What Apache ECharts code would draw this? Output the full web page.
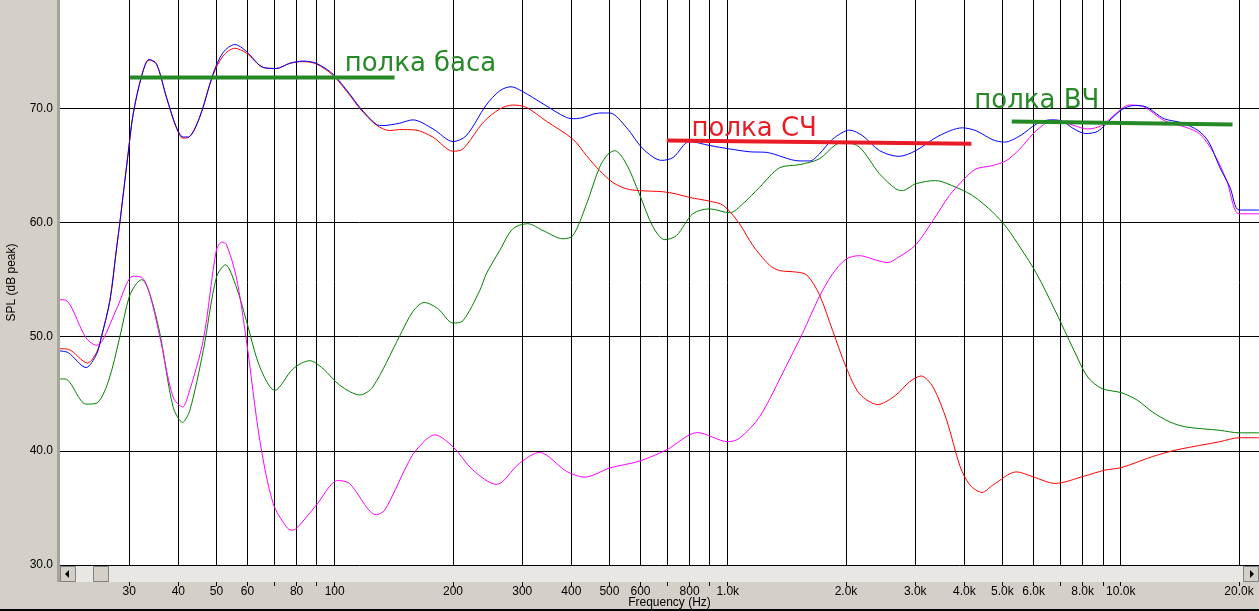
<!DOCTYPE html>
<html>
<head>
<meta charset="utf-8">
<script src="https://cdn.jsdelivr.net/npm/echarts@6/dist/echarts.min.js"></script>
<style>
  html, body { margin: 0; padding: 0; background: #d4d0c8; }
  #main { width: 1259px; height: 611px; }
</style>
</head>
<body>
<div id="main"></div>
<script>
// АЧХ: сумма и отдельные полосы, [Гц, дБ]
var sumCurve = [
  [20, 48.75], [21, 48.6], [23.3, 47.3], [24.8, 48.5], [25.5, 50.0], [26.8, 53.2], [27.8, 57.5],
  [28.4, 60.0], [29.8, 66.0], [30.7, 69.5], [32.3, 72.9], [33.7, 74.3], [35.2, 73.9], [37.3, 71.0],
  [39.5, 68.4], [41.1, 67.5], [42.4, 67.5], [45.3, 69.2], [49, 73.0], [52, 74.9], [55.7, 75.6],
  [59.6, 75.0], [65.7, 73.6], [71, 73.5], [76.8, 73.95], [83, 74.15], [89.8, 73.95], [99, 73.0],
  [109, 71.3], [115.8, 70.1], [127.6, 68.6], [132.7, 68.5], [146, 68.7], [158, 69.0], [178, 68.2],
  [200, 67.1], [216, 67.6], [243, 70.3], [263, 71.55], [281, 71.9], [300, 71.5], [339, 70.4],
  [389, 69.2], [412, 69.1], [472, 69.6], [501, 69.6], [552, 68.35], [609, 66.45], [679, 65.45],
  [726, 65.7], [800, 67.1], [900, 66.75], [1012, 66.45], [1139, 66.2], [1254, 66.15], [1525, 65.4],
  [1618, 65.4], [1710, 66.0], [1848, 67.3], [2043, 68.1], [2206, 67.6], [2434, 66.3], [2728, 65.8],
  [3009, 66.3], [3447, 67.6], [3951, 68.3], [4282, 68.05], [4728, 67.25], [5062, 67.05], [5541, 67.6],
  [6114, 68.65], [6623, 69.0], [7085, 68.9], [7605, 68.2], [8152, 67.8], [8741, 68.0], [9468, 69.1],
  [10075, 69.9], [10762, 70.25], [11430, 70.2], [12900, 69.1], [14260, 68.75], [15770, 68.05],
  [16750, 67.05], [17860, 64.85], [18960, 63.1], [20000, 61.1], [22480, 61.1]
];

var bassCurve = [
  [20, 48.95], [21, 48.9], [23.5, 47.7], [24.8, 48.65], [25.5, 50.0], [26.8, 53.2], [27.8, 57.5],
  [28.4, 60.0], [29.8, 66.0], [30.7, 69.5], [32.3, 72.9], [33.7, 74.25], [35.2, 73.9], [37.3, 71.0],
  [39.5, 68.35], [41.1, 67.4], [42.4, 67.45], [45.3, 69.2], [49, 72.9], [52, 74.6], [55.7, 75.27],
  [59.6, 74.85], [65.7, 73.6], [71, 73.5], [76.8, 73.95], [83, 74.1], [89.8, 73.9], [99, 72.9],
  [109, 71.2], [115.8, 70.0], [127.6, 68.55], [138, 68.06], [146, 68.15], [161, 68.1], [178, 67.47],
  [200, 66.25], [212, 66.45], [239, 68.8], [263, 69.95], [284, 70.3], [307, 70.1], [345, 68.9],
  [404, 67.3], [437, 65.87], [472, 64.56], [511, 63.5], [552, 62.96], [596, 62.8], [685, 62.7],
  [741, 62.5], [800, 62.2], [900, 61.87], [975, 61.5], [1071, 59.9], [1158, 58.0], [1279, 56.25],
  [1354, 55.8], [1497, 55.66], [1590, 55.4], [1710, 53.7], [1848, 50.56], [2000, 47.35], [2165, 45.0],
  [2410, 44.06], [2675, 44.87], [2900, 46.04], [3104, 46.56], [3328, 45.6], [3605, 42.7], [3905, 38.6],
  [4137, 37.0], [4437, 36.36], [4728, 37.0], [5433, 38.16], [5980, 37.73], [6806, 37.15], [8090, 37.79],
  [9080, 38.3], [10075, 38.55], [12050, 39.5], [13940, 40.1], [17860, 40.8], [20000, 41.15], [22480, 41.15]
];

var midCurve = [
  [20, 46.3], [20.6, 46.3], [23.3, 44.1], [24.7, 44.15], [26.5, 46.0], [28.4, 50.0], [30, 53.5],
  [31.3, 54.65], [32.3, 55.0], [33.8, 53.8], [35.9, 50.3], [38.8, 43.85], [41.0, 42.5], [42.8, 43.56],
  [46.3, 48.8], [50, 55.2], [52.7, 56.3], [56.2, 54.35], [59.6, 51.4], [64.5, 47.35], [70.4, 45.3],
  [78.4, 47.2], [86.4, 47.9], [93.4, 47.2], [103, 45.75], [115.8, 44.9], [125, 45.6], [146, 50.0],
  [158, 52.2], [169, 53.0], [183, 52.46], [200, 51.2], [212, 51.4], [234, 54.06], [243, 55.5],
  [263, 57.56], [284, 59.46], [310, 59.9], [339, 59.3], [381, 58.58], [404, 58.87], [437, 61.6],
  [472, 64.85], [496, 66.0], [516, 66.3], [552, 65.15], [596, 62.5], [646, 59.6], [692, 58.5],
  [741, 58.87], [815, 60.77], [900, 61.2], [1012, 60.86], [1092, 61.64], [1206, 63.1], [1354, 64.8],
  [1525, 65.08], [1710, 65.58], [1883, 66.83], [1993, 67.03], [2165, 66.6], [2434, 64.27], [2675, 62.96],
  [2780, 62.8], [3009, 63.4], [3381, 63.68], [3716, 63.25], [4194, 62.37], [4728, 60.9], [5115, 59.6],
  [5541, 57.85], [6114, 55.5], [6806, 52.3], [7605, 48.8], [8240, 46.47], [8960, 45.46], [10075, 45.08],
  [11020, 44.44], [12050, 43.4], [13320, 42.54], [14640, 42.1], [17860, 41.8], [20000, 41.58], [22480, 41.58]
];

var highCurve = [
  [20, 53.25], [20.7, 53.2], [23.3, 49.9], [24.8, 49.25], [25.7, 49.7], [28, 52.6], [30.7, 55.3],
  [32.3, 55.2], [33.8, 53.8], [35.9, 50.0], [38.8, 44.7], [41.0, 43.85], [42.4, 44.9], [46.3, 49.7],
  [50, 57.6], [51.7, 58.3], [53.0, 58.1], [56.2, 55.2], [59.6, 49.7], [64.5, 40.9], [69.7, 35.4],
  [75.3, 33.35], [77.6, 33.05], [79.9, 33.2], [89.8, 35.25], [102, 37.4], [109, 37.15], [127.6, 34.4],
  [134, 34.8], [152, 38.6], [161, 40.06], [180, 41.4], [200, 40.35], [225, 38.3], [258, 37.06],
  [295, 38.9], [332, 39.86], [389, 38.2], [433, 37.7], [501, 38.5], [596, 39.1], [700, 40.1],
  [837, 41.6], [1003, 40.8], [1071, 41.1], [1206, 43.0], [1405, 47.35], [1550, 50.3], [1710, 53.5],
  [1848, 55.5], [2000, 56.8], [2165, 57.1], [2390, 56.7], [2555, 56.5], [2728, 57.0], [3000, 58.0],
  [3328, 60.18], [3665, 62.37], [4000, 63.83], [4282, 64.7], [4728, 65.0], [5115, 65.43], [5541, 66.46],
  [5980, 67.77], [6497, 68.79], [6878, 68.94], [7605, 68.5], [8240, 68.2], [8941, 68.5], [9700, 69.52],
  [10500, 70.3], [11430, 70.16], [12900, 68.93], [14640, 68.35], [15880, 67.77], [17200, 66.16],
  [18600, 63.68], [20000, 60.77], [22480, 60.77]
];

// сетка и подписи частот
var gridFreqs = [30, 40, 50, 60, 70, 80, 90, 100, 200, 300, 400, 500, 600, 700, 800, 900,
  1000, 2000, 3000, 4000, 5000, 6000, 7000, 8000, 9000, 10000, 20000];
var labelFreqs = [30, 40, 50, 60, 80, 100, 200, 300, 400, 500, 600, 800,
  1000, 2000, 3000, 4000, 5000, 6000, 8000, 10000, 20000];
var dbTicks = [30, 40, 50, 60, 70];

// пометки "полок"
var shelfNames = ['полка баса', 'полка СЧ', 'полка ВЧ'];
var shelfLines = [
  [[30.1, 72.7], [142, 72.7]],
  [[700, 67.2], [4170, 66.9]],
  [[5280, 68.85], [19250, 68.6]]
];
var shelfTextAt = [[106, 73.9], [809, 68.2], [4240, 70.6]];

var shelfColors = ['#258a25', '#e81c26', '#258a25'];

function lg(f) { return Math.log10(f); }
function toLog(curve) {
  return curve.map(function (p) { return [lg(p[0]), p[1]]; });
}
function freqLabel(v) {
  var f = Math.round(Math.pow(10, v));
  return f < 1000 ? String(f) : (f / 1000).toFixed(1) + 'k';
}

var myChart = echarts.init(document.getElementById('main'));

var series = [];
var curves = [
  {data: midCurve, color: '#008000'},
  {data: bassCurve, color: '#ff0000'},
  {data: highCurve, color: '#ff00ff'},
  {data: sumCurve, color: '#0000ff'}
];
curves.forEach(function (c) {
  series.push({
    type: 'line',
    data: toLog(c.data),
    smooth: 0.3,
    symbol: 'none',
    lineStyle: {color: c.color, width: 1},
    z: 3
  });
});

shelfLines.forEach(function (seg, i) {
  series.push({
    type: 'line',
    data: toLog(seg),
    symbol: 'none',
    lineStyle: {color: shelfColors[i], width: 4},
    z: 4
  });
});

series.push({
  type: 'scatter',
  symbol: 'circle',
  symbolSize: 0,
  itemStyle: {color: 'rgba(0,0,0,0)'},
  data: shelfTextAt.map(function (p, i) {
    return {
      value: [lg(p[0]), p[1]],
      label: {
        show: true,
        position: 'right',
        distance: 0,
        formatter: shelfNames[i],
        color: shelfColors[i],
        opacity: 1,
        textBorderWidth: 0,
        fontSize: 26,
        fontFamily: 'DejaVu Sans'
      }
    };
  }),
  z: 5
});

var option = {
  backgroundColor: '#d4d0c8',
  animation: false,
  grid: {
    left: 60, right: 0, top: 0, bottom: 46,
    outerBoundsMode: 'none',
    containLabel: false,
    show: true, backgroundColor: '#ffffff', borderWidth: 0
  },
  xAxis: {
    type: 'value',
    min: lg(20),
    max: lg(22480),
    offset: 17,
    name: 'Frequency (Hz)',
    nameLocation: 'middle',
    nameGap: 15,
    nameMoveOverlap: false,
    nameTextStyle: {color: '#000', fontSize: 12, fontFamily: 'Liberation Sans', padding: [0, 0, 0, 20]},
    axisLine: {show: false},
    axisTick: {show: true, length: 4, customValues: gridFreqs.map(lg), lineStyle: {color: '#000'}},
    axisLabel: {
      customValues: labelFreqs.map(lg),
      formatter: freqLabel,
      margin: 4,
      color: '#000',
      fontSize: 12,
      fontFamily: 'Liberation Sans'
    },
    splitLine: {show: true, lineStyle: {color: '#000', width: 1}}
  },
  yAxis: {
    type: 'value',
    min: 30,
    max: 79.5,
    name: 'SPL (dB peak)',
    nameLocation: 'middle',
    nameGap: 42,
    nameMoveOverlap: false,
    nameTextStyle: {color: '#000', fontSize: 12, fontFamily: 'Liberation Sans'},
    axisLine: {show: false},
    axisTick: {show: false, customValues: dbTicks},
    axisLabel: {
      customValues: dbTicks,
      formatter: function (v) { return v.toFixed(1); },
      margin: 7,
      color: '#000',
      fontSize: 12,
      fontFamily: 'Liberation Sans'
    },
    splitLine: {show: true, lineStyle: {color: '#000', width: 1}}
  },
  graphic: [
    // рамка слева и снизу
    {type: 'rect', shape: {x: 57, y: 0, width: 3, height: 582}, style: {fill: '#a6a39c'}, z: 100},
    {type: 'rect', shape: {x: 0, y: 609, width: 1259, height: 2}, style: {fill: '#000'}, z: 100},
    // полоса прокрутки
    {type: 'rect', shape: {x: 60, y: 566, width: 1199, height: 16}, style: {fill: '#e9e7e3'}, z: 100},
    {type: 'rect', shape: {x: 60.5, y: 566.5, width: 15, height: 15}, style: {fill: '#d4d0c8', stroke: '#808080', lineWidth: 1}, z: 101},
    {type: 'polygon', shape: {points: [[65, 574], [69, 570], [69, 578]]}, style: {fill: '#000'}, z: 102},
    {type: 'rect', shape: {x: 93.5, y: 566.5, width: 15, height: 15}, style: {fill: '#d4d0c8', stroke: '#808080', lineWidth: 1}, z: 101},
    {type: 'rect', shape: {x: 1243.5, y: 566.5, width: 15, height: 15}, style: {fill: '#d4d0c8', stroke: '#808080', lineWidth: 1}, z: 101},
    {type: 'polygon', shape: {points: [[1254, 574], [1250, 570], [1250, 578]]}, style: {fill: '#000'}, z: 102}
  ],
  series: series
};

myChart.setOption(option);
</script>
</body>
</html>
